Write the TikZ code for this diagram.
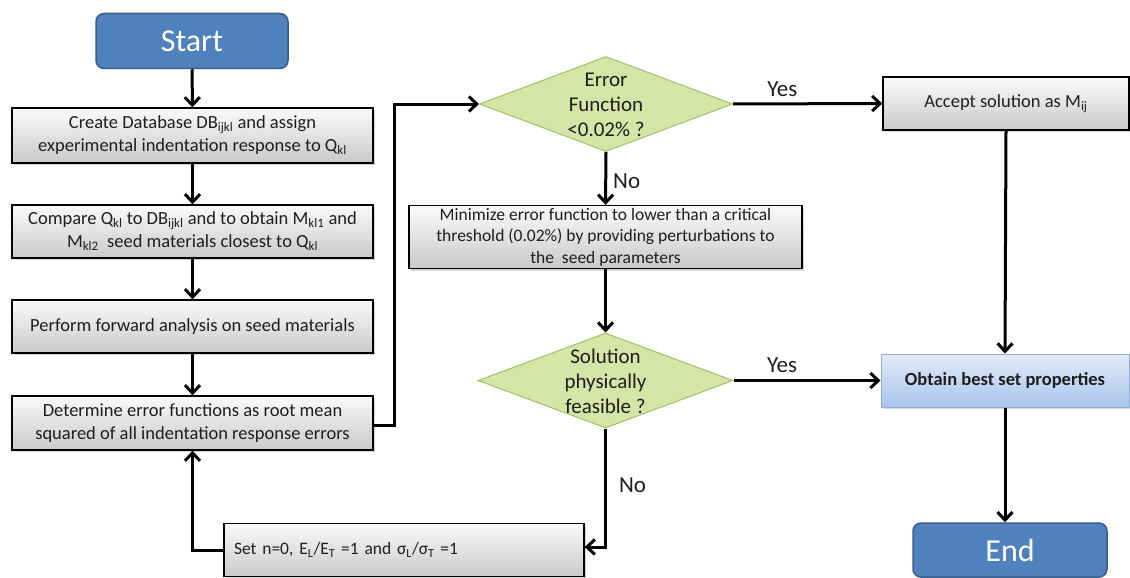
\documentclass[tikz,border=0pt]{standalone}
\usepackage{fontspec}
\setmainfont{Carlito}
\usetikzlibrary{shapes.geometric,arrows.meta,shadows}
\definecolor{startfill}{HTML}{4F81BD}
\definecolor{startdraw}{HTML}{385D8A}
\definecolor{diafill}{HTML}{D7E4A8}
\definecolor{diadraw}{HTML}{A3C164}
\definecolor{txt}{HTML}{1E1E1E}
\definecolor{bluetop}{HTML}{E2EBF8}
\definecolor{bluebot}{HTML}{A9C4EC}
\definecolor{bluedraw}{HTML}{8EAEDB}
\tikzset{
  term/.style={rectangle, rounded corners=8pt, fill=startfill, draw=startdraw, line width=1.5pt,
    text=white, font=\fontsize{32}{36}\selectfont, inner sep=0pt},
  graybox/.style={rectangle, draw=black, line width=1.3pt, top color=gray!4, bottom color=gray!42,
    text=txt, align=center, inner sep=0pt, drop shadow={shadow xshift=2pt, shadow yshift=-2pt, opacity=0.35},
    font=\fontsize{18.5}{23}\selectfont},
  bluebox/.style={rectangle, draw=bluedraw, line width=1pt, top color=bluetop, bottom color=bluebot,
    text=txt, align=center, inner sep=0pt, drop shadow={shadow xshift=2pt, shadow yshift=-2pt, opacity=0.3},
    font=\bfseries\fontsize{18.5}{22}\selectfont},
  decision/.style={diamond, fill=diafill, draw=diadraw, line width=1pt, inner sep=0pt},
  dtext/.style={align=center, text=txt, font=\fontsize{21}{25}\selectfont},
  lbl/.style={text=txt, font=\fontsize{23}{26}\selectfont, inner sep=0pt},
  flow/.style={line width=3pt, -{Straight Barb[length=8pt,width=15pt,line width=3pt]}},
}
\begin{document}
\begin{tikzpicture}[x=1pt,y=-1pt]
\useasboundingbox (0,0) rectangle (1130,578);
% left column
\node[term, minimum width=192, minimum height=55] (start) at (192,41) {Start};
\node[graybox, minimum width=361, minimum height=55] (create) at (192.5,135.5)
  {Create Database DB\textsubscript{ijkl} and assign\\experimental indentation response to Q\textsubscript{kl}};
\node[graybox, minimum width=361, minimum height=53] (compare) at (192.5,231.5)
  {Compare Q\textsubscript{kl} to DB\textsubscript{ijkl} and to obtain M\textsubscript{kl1} and\\M\textsubscript{kl2}\ \ seed materials closest to Q\textsubscript{kl}};
\node[graybox, minimum width=361, minimum height=53] (perform) at (192.5,326.5)
  {Perform forward analysis on seed materials};
\node[graybox, minimum width=361, minimum height=54] (determine) at (192.5,423)
  {Determine error functions as root mean\\squared of all indentation response errors};
\node[graybox, minimum width=360, minimum height=53, text width=340, align=left, font=\fontsize{17.5}{22}\selectfont] (set) at (404,550)
  {Set n=0, E\textsubscript{L}/E\textsubscript{T} =1 and σ\textsubscript{L}/σ\textsubscript{T} =1};
% middle column
\node[decision, minimum width=253, minimum height=95] (d1) at (606,104) {};
\node[dtext] (d1t) at (606,105) {Error\\Function\\<0.02\% ?};
\node[graybox, minimum width=393, minimum height=63, font=\fontsize{17.5}{21.5}\selectfont] (minim) at (605.5,237)
  {Minimize error function to lower than a critical\\threshold (0.02\%) by providing perturbations to\\the\ \ seed parameters};
\node[decision, minimum width=255, minimum height=95] (d2) at (605.5,380.5) {};
\node[dtext] (d2t) at (605.5,381) {Solution\\physically\\feasible ?};
% right column
\node[graybox, minimum width=246, minimum height=53, font=\fontsize{18.5}{22}\selectfont] (accept) at (1006,103.5)
  {Accept solution as M\textsubscript{ij}};
\node[bluebox, minimum width=248, minimum height=53] (best) at (1005,380.5)
  {Obtain best set properties};
\node[term, minimum width=194, minimum height=54] (end) at (1010,550) {End};
% connectors
\draw[flow] (start) -- (create);
\draw[flow] (create) -- (compare);
\draw[flow] (compare) -- (perform);
\draw[flow] (perform) -- (determine);
\draw[flow] (determine.east |- 0,425) -- (394,425) |- (d1.west);
\draw[flow] (d1.east) -- node[lbl, above=6pt, pos=0.33] (yes1) {Yes} (accept.west);
\draw[flow] (d1.south) -- node[lbl, right=6pt, pos=0.55] (no1) {No} (minim.north);
\draw[flow] (minim.south) -- (d2.north);
\draw[flow] (d2.east) -- node[lbl, above=6pt, pos=0.33] (yes2) {Yes} (best.west);
\draw[flow] (d2.south) -- node[lbl, right=12pt, pos=0.48] (no2) {No} (605.5,547) -- (set.east |- 0,547);
\draw[flow] (set.west) -| (determine.south);
\draw[flow] (accept.south) -- (best.north);
\draw[flow] (best.south) -- (best.south |- end.north);
\end{tikzpicture}
\end{document}
